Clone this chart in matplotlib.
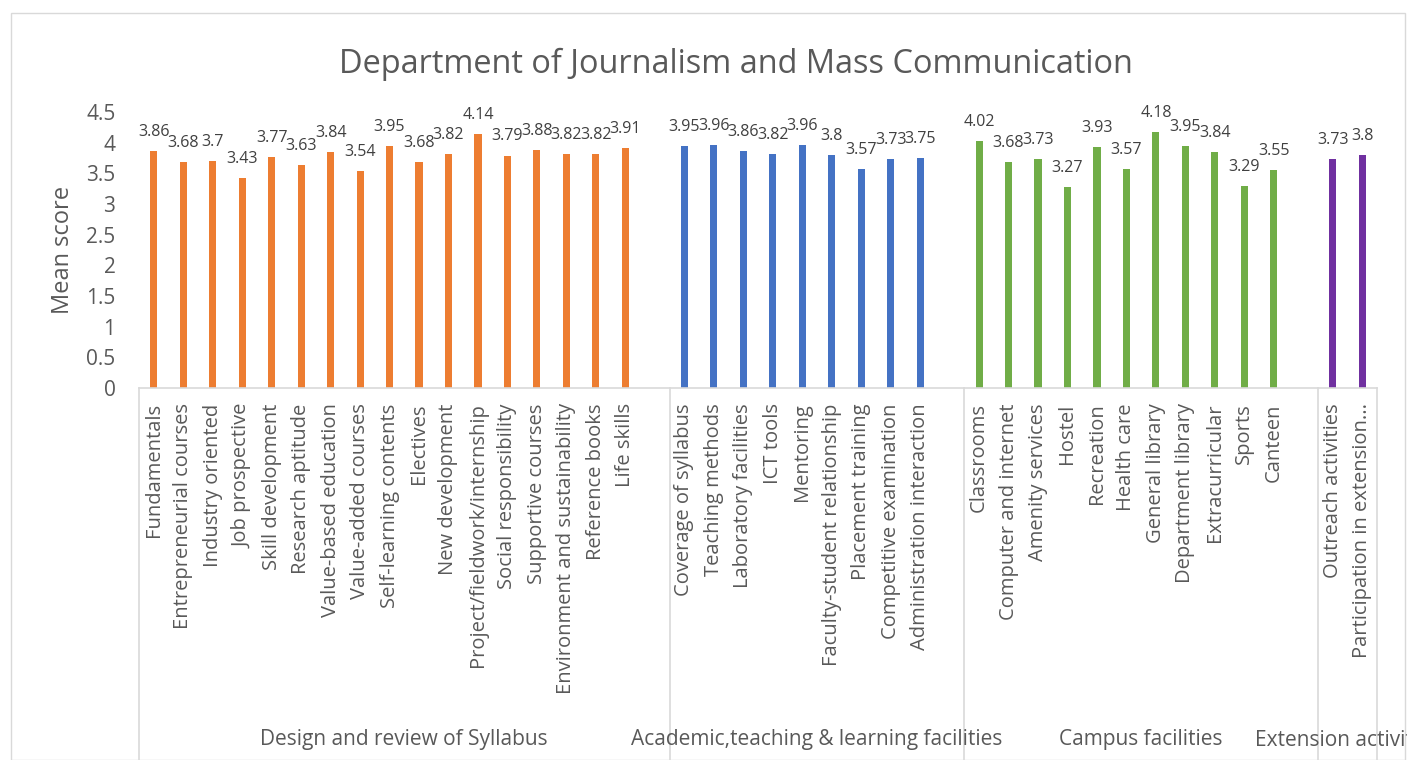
import numpy as np
import matplotlib
matplotlib.use("Agg")
import matplotlib.pyplot as plt
from matplotlib.lines import Line2D
from matplotlib.patches import Rectangle

# groups of the category axis
group_names = ["Design and review of Syllabus",
               "Academic,teaching & learning facilities",
               "Campus facilities",
               "Extension activities"]

syllabus_labels = ["Fundamentals", "Entrepreneurial courses", "Industry oriented",
                   "Job prospective", "Skill development", "Research aptitude",
                   "Value-based education", "Value-added courses", "Self-learning contents",
                   "Electives", "New development", "Project/fieldwork/internship",
                   "Social responsibility", "Supportive courses",
                   "Environment and sustainability", "Reference books", "Life skills"]
syllabus_values = [3.86, 3.68, 3.7, 3.43, 3.77, 3.63, 3.84, 3.54, 3.95, 3.68, 3.82,
                   4.14, 3.79, 3.88, 3.82, 3.82, 3.91]

academic_labels = ["Coverage of syllabus", "Teaching methods", "Laboratory facilities",
                   "ICT tools", "Mentoring", "Faculty-student relationship",
                   "Placement training", "Competitive examination",
                   "Administration interaction"]
academic_values = [3.95, 3.96, 3.86, 3.82, 3.96, 3.8, 3.57, 3.73, 3.75]

campus_labels = ["Classrooms", "Computer and internet", "Amenity services", "Hostel",
                 "Recreation", "Health care", "General library", "Department library",
                 "Extracurricular", "Sports", "Canteen"]
campus_values = [4.02, 3.68, 3.73, 3.27, 3.93, 3.57, 4.18, 3.95, 3.84, 3.29, 3.55]

extension_labels = ["Outreach activities", "Participation in extension..."]
extension_values = [3.73, 3.8]

group_labels = [syllabus_labels, academic_labels, campus_labels, extension_labels]
group_values = [syllabus_values, academic_values, campus_values, extension_values]
group_colors = ["#ED7D31", "#4472C4", "#70AD47", "#7030A0"]

TXT = "#595959"
GRID = "#D9D9D9"
W, H = 1407, 760

fig = plt.figure(figsize=(W / 100, H / 100), dpi=100)
fig.patch.set_facecolor("white")

# chart frame
fig.add_artist(Rectangle((11 / W, 0), (1405 - 11) / W, (H - 13) / H,
                         transform=fig.transFigure, fill=False,
                         edgecolor=GRID, linewidth=1))

x_left, x_right = 139, 1377
y_top, y_bot = 112, 388
ax = fig.add_axes([x_left / W, 1 - y_bot / H, (x_right - x_left) / W, (y_bot - y_top) / H])

# positions: one blank slot after each group except the last
all_pos, all_lab = [], []
bounds = [0]
offset = 0
for gi, (labs, vals, col) in enumerate(zip(group_labels, group_values, group_colors)):
    pos = offset + np.arange(len(labs))
    ax.bar(pos, vals, width=0.24, color=col, zorder=2)
    for p, v in zip(pos, vals):
        ax.annotate(f"{v:g}", (p, v), xytext=(0, 8), textcoords="offset points",
                    ha="center", va="bottom", fontsize=11.5, color="#404040",
                    family="Open Sans")
    all_pos += list(pos)
    all_lab += labs
    offset += len(labs) + (1 if gi < len(group_labels) - 1 else 0)
    bounds.append(offset)

ax.set_xlim(-0.5, offset - 0.5)
ax.set_ylim(0, 4.5)
ax.set_yticks(np.arange(0, 4.51, 0.5))
ax.set_yticklabels([f"{t:g}" for t in np.arange(0, 4.51, 0.5)])
ax.set_xticks(all_pos)
ax.set_xticklabels(all_lab, rotation=90, va="top", ha="center")
ax.tick_params(axis="x", length=0, pad=11, labelsize=14.5, labelcolor=TXT)
ax.tick_params(axis="y", length=0, pad=17, labelsize=15, labelcolor=TXT)
for lab in ax.get_xticklabels() + ax.get_yticklabels():
    lab.set_family("Open Sans")

for s in ["top", "right", "left"]:
    ax.spines[s].set_visible(False)
ax.spines["bottom"].set_color(GRID)
ax.spines["bottom"].set_linewidth(1.2)

ax.set_ylabel("Mean score", fontsize=17, color=TXT, family="Open Sans", labelpad=8)

# group separators and group names below the axis
x_scale = (x_right - x_left) / offset
for b in bounds:
    xf = (x_left + b * x_scale) / W
    fig.add_artist(Line2D([xf, xf], [0, 1 - y_bot / H], transform=fig.transFigure,
                          color=GRID, linewidth=1.2))
for gi, name in enumerate(group_names):
    xc = (x_left + (bounds[gi] + bounds[gi + 1]) / 2 * x_scale) / W
    fig.text(xc, 1 - 740 / H, name, ha="center", va="center", fontsize=15,
             color=TXT, family="Open Sans")

fig.text(736 / W, 1 - 64 / H, "Department of Journalism and Mass Communication",
         ha="center", va="center", fontsize=23.4, color=TXT, family="Open Sans")

fig.savefig("out.png", dpi=100)
